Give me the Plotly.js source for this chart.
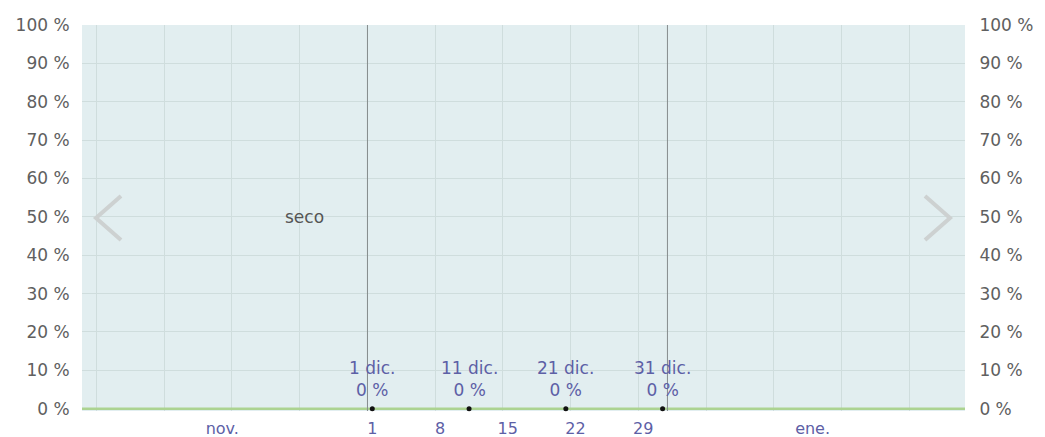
<!DOCTYPE html>
<html>
<head>
<meta charset="utf-8">
<script src="https://cdn.plot.ly/plotly-3.0.1.min.js"></script>
<style>
  html, body { margin: 0; padding: 0; background: #ffffff; }
  #chart { width: 1045px; height: 437px; }
</style>
</head>
<body>
<div id="chart"></div>
<script>
// ---- data ----
var lineDates = ['2023-11-01 00:00', '2024-02-01 00:00'];
var lineValues = [0, 0];

var pointDates = ['2023-12-01 12:00', '2023-12-11 12:00', '2023-12-21 12:00', '2023-12-31 12:00'];
var pointValues = [0, 0, 0, 0];
var pointDayLabels = ['1 dic.', '11 dic.', '21 dic.', '31 dic.'];

var tickDates = ['2023-11-16 00:00', '2023-12-01 12:00', '2023-12-08 12:00', '2023-12-15 12:00', '2023-12-22 12:00', '2023-12-29 12:00', '2024-01-16 00:00'];
var tickLabels = ['nov.', '1', '8', '15', '22', '29', 'ene.'];

var weekGridDates = ['2023-11-03', '2023-11-10', '2023-11-17', '2023-11-24', '2023-12-01', '2023-12-08', '2023-12-15', '2023-12-22', '2023-12-29', '2024-01-05', '2024-01-12', '2024-01-19', '2024-01-26'];
var monthBoundaries = ['2023-12-01', '2024-01-01'];

var yTickVals = [0, 10, 20, 30, 40, 50, 60, 70, 80, 90, 100];
var yTickText = ['0 %', '10 %', '20 %', '30 %', '40 %', '50 %', '60 %', '70 %', '80 %', '90 %', '100 %'];

var conditionLabel = 'seco';

// ---- layout helpers ----
var W = 1045, H = 437;
var M = {l: 82, r: 80, t: 25, b: 26};
var plotW = W - M.l - M.r, plotH = H - M.t - M.b;
function px(x) { return (x - M.l) / plotW; }
function py(y) { return (H - M.b - y) / plotH; }

var xRange = ['2023-11-01 12:00', '2024-01-31 18:00'];
var yRange = [-0.6, 100];

var FONT = 'DejaVu Sans, Verdana, sans-serif';
var labelColor = '#5d60a6';
var axisTextColor = '#606060';
var gridColor = '#cfdddd';

var traces = [
  {
    x: lineDates, y: lineValues, type: 'scatter', mode: 'lines',
    line: {color: '#acd391', width: 2.5}, hoverinfo: 'skip', showlegend: false
  },
  {
    x: pointDates, y: pointValues, type: 'scatter', mode: 'markers',
    marker: {color: '#111111', size: 5}, cliponaxis: false, showlegend: false
  },
  {
    x: lineDates, y: lineValues, type: 'scatter', mode: 'lines',
    xaxis: 'x2', yaxis: 'y2', line: {width: 0}, opacity: 0, hoverinfo: 'skip', showlegend: false
  }
];

var annotations = [];
pointDates.forEach(function (d, i) {
  annotations.push({
    x: d, y: pointValues[i], xref: 'x', yref: 'y',
    text: pointDayLabels[i] + '<br>' + pointValues[i] + ' %',
    showarrow: false, xanchor: 'center', yanchor: 'bottom', yshift: 7,
    font: {family: FONT, size: 17, color: labelColor}
  });
});
annotations.push({
  x: px(304), y: 50, xref: 'paper', yref: 'y',
  text: conditionLabel, showarrow: false, xanchor: 'center', yanchor: 'middle',
  font: {family: FONT, size: 17, color: '#555555'}
});

var shapes = [];
monthBoundaries.forEach(function (d) {
  shapes.push({type: 'line', xref: 'x', yref: 'paper', x0: d, x1: d, y0: 0, y1: 1,
    line: {color: '#858c8d', width: 1}, layer: 'above'});
});
function chevron(pts) {
  var p = 'M ' + px(pts[0][0]) + ' ' + py(pts[0][1]);
  for (var i = 1; i < pts.length; i++) p += ' L ' + px(pts[i][0]) + ' ' + py(pts[i][1]);
  return {type: 'path', xref: 'paper', yref: 'paper', path: p,
    line: {color: '#cdd1d1', width: 4}, layer: 'above'};
}
shapes.push(chevron([[121, 196], [96, 218], [121, 240]]));
shapes.push(chevron([[925, 196], [950, 218], [925, 240]]));

var layout = {
  width: W, height: H,
  margin: M,
  paper_bgcolor: '#ffffff',
  plot_bgcolor: '#e2eef0',
  showlegend: false,
  font: {family: FONT},
  xaxis: {
    type: 'date', range: xRange,
    tickmode: 'array', tickvals: tickDates, ticktext: tickLabels,
    showgrid: false, zeroline: false, showline: false,
    ticks: 'outside', ticklen: 3, tickcolor: 'rgba(0,0,0,0)',
    tickfont: {size: 16, color: labelColor}
  },
  xaxis2: {
    type: 'date', range: xRange, overlaying: 'x', anchor: 'y',
    tickmode: 'array', tickvals: weekGridDates,
    showticklabels: false, showgrid: true, gridcolor: gridColor, gridwidth: 1,
    zeroline: false, showline: false, ticks: ''
  },
  yaxis: {
    range: yRange, tickmode: 'array', tickvals: yTickVals, ticktext: yTickText,
    showgrid: true, gridcolor: gridColor, zeroline: false, showline: false,
    ticks: 'outside', ticklen: 8, tickcolor: 'rgba(0,0,0,0)',
    tickfont: {size: 17, color: axisTextColor}
  },
  yaxis2: {
    range: yRange, overlaying: 'y', side: 'right', anchor: 'x',
    tickmode: 'array', tickvals: yTickVals, ticktext: yTickText,
    showgrid: false, zeroline: false, showline: false,
    ticks: 'outside', ticklen: 10, tickcolor: 'rgba(0,0,0,0)',
    tickfont: {size: 17, color: axisTextColor}
  },
  annotations: annotations,
  shapes: shapes
};

Plotly.newPlot('chart', traces, layout, {displayModeBar: false, staticPlot: true});
</script>
</body>
</html>
